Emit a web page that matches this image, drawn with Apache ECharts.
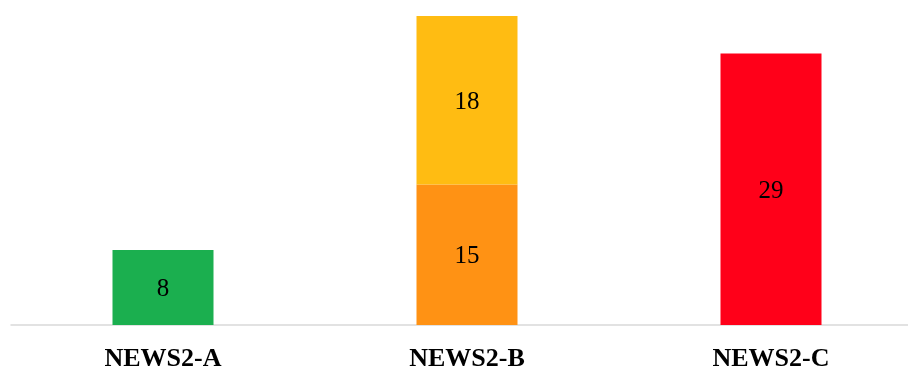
<!DOCTYPE html>
<html>
<head>
<meta charset="utf-8">
<script src="https://cdn.jsdelivr.net/npm/echarts@6/dist/echarts.min.js"></script>
<style>html,body{margin:0;padding:0;background:#fff}#c{width:908px;height:372px}</style>
</head>
<body>
<div id="c"></div>
<script>
var categories = ['NEWS2-A', 'NEWS2-B', 'NEWS2-C'];
var lowerValues = [8, 15, 29];
var upperValues = [null, 18, null];
var lowerColors = ['#1BAF4F', '#FF9214', '#FF0019'];
var upperColor = '#FFBC12';

var chart = echarts.init(document.getElementById('c'), null, {renderer: 'canvas'});
var labelStyle = {show: true, position: 'inside', color: '#000', fontFamily: 'Liberation Serif', fontSize: 25, offset: [0, 2]};
chart.setOption({
  animation: false,
  grid: {left: 11, top: 16, width: 912, height: 309, outerBoundsMode: 'none', containLabel: false},
  xAxis: {
    type: 'category', data: categories,
    axisLine: {lineStyle: {color: '#d9d9d9', width: 1.5}},
    axisTick: {show: false},
    axisLabel: {color: '#000', fontFamily: 'Liberation Serif', fontWeight: 'bold', fontSize: 26, margin: 21}
  },
  yAxis: {type: 'value', min: 0, max: 33, show: false, splitLine: {show: false}},
  series: [
    {
      type: 'bar', stack: 'total', barWidth: 101,
      data: lowerValues.map(function (v, i) { return {value: v, itemStyle: {color: lowerColors[i]}}; }),
      label: labelStyle
    },
    {
      type: 'bar', stack: 'total', barWidth: 101,
      data: upperValues.map(function (v) { return v == null ? '-' : v; }),
      itemStyle: {color: upperColor},
      label: labelStyle
    }
  ]
});
</script>
</body>
</html>
